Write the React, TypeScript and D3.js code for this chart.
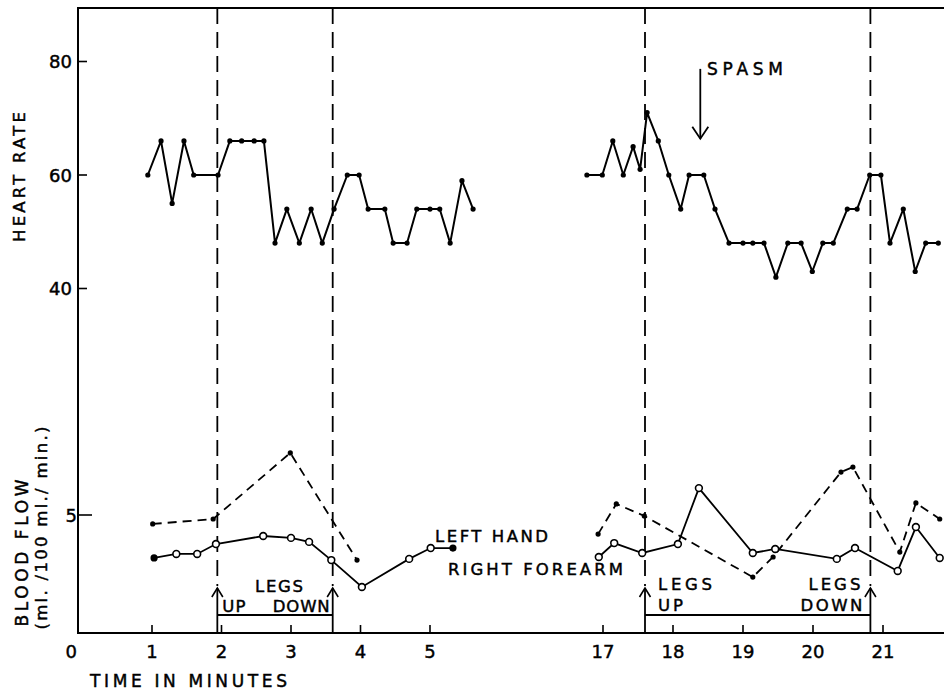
import React from 'react';
import * as d3 from 'd3';

// heart rate, first run (minutes, beats/min)
const hrTimesA = [0.94, 1.13, 1.29, 1.46, 1.6, 1.95, 2.12, 2.29, 2.47, 2.61, 2.77, 2.94, 3.12, 3.29, 3.45, 3.62, 3.81, 3.98, 4.11, 4.35, 4.47, 4.67, 4.81, 5.0, 5.14, 5.29, 5.46, 5.62];
const hrRateA = [60, 66, 55, 66, 60, 60, 66, 66, 66, 66, 48, 54, 48, 54, 48, 54, 60, 60, 54, 54, 48, 48, 54, 54, 54, 48, 59, 54];

// heart rate, second run
const hrTimesB = [16.77, 16.99, 17.14, 17.29, 17.43, 17.53, 17.63, 17.79, 17.94, 18.11, 18.23, 18.44, 18.6, 18.8, 19.0, 19.14, 19.3, 19.47, 19.64, 19.83, 19.99, 20.14, 20.29, 20.49, 20.63, 20.81, 20.97, 21.1, 21.29, 21.46, 21.61, 21.79];
const hrRateB = [60, 60, 66, 60, 65, 61, 71, 66, 60, 54, 60, 60, 54, 48, 48, 48, 48, 42, 48, 48, 43, 48, 48, 54, 54, 60, 60, 48, 54, 43, 48, 48];

// blood flow, left hand (dashed)
const handTimesA = [1.01, 1.88, 2.99, 3.95];
const handFlowA = [4.62, 4.83, 7.63, 3.09];
const handTimesB = [16.93, 17.19, 17.59, 19.14, 19.43, 20.4, 20.57, 21.24, 21.47, 21.81];
const handFlowB = [4.19, 5.47, 4.96, 2.37, 3.22, 6.82, 7.03, 3.43, 5.51, 4.83];

// blood flow, right forearm (solid)
const armTimesA = [1.03, 1.35, 1.65, 1.92, 2.6, 3.0, 3.26, 3.58, 4.02, 4.7, 5.01, 5.33];
const armFlowA = [3.18, 3.35, 3.35, 3.77, 4.11, 4.03, 3.86, 3.09, 1.95, 3.14, 3.6, 3.6];
const armTimesB = [16.94, 17.16, 17.56, 18.07, 18.37, 19.14, 19.46, 20.34, 20.6, 21.21, 21.47, 21.81];
const armFlowB = [3.22, 3.81, 3.39, 3.77, 6.14, 3.39, 3.56, 3.14, 3.6, 2.63, 4.49, 3.18];

// legs up / legs down events
const legsUp = [1.94, 17.6];
const legsDown = [3.6, 20.82];
const spasmTime = 18.39;

const xTicks = [1, 2, 3, 4, 5, 17, 18, 19, 20, 21];
const hrTicks = [80, 60, 40];
const flowTicks = [5];

const W = 944;
const H = 693;
const axisX = 78;
const topY = 8;
const baseY = 633;
const FONT = 'DejaVu Sans, sans-serif';

// broken time axis: 0-6 then 16-22, the gap squeezed out
const x = d3.scaleLinear().domain([1, 6, 16, 21]).range([152, 499.5, 533, 883]);
const yHR = d3.scaleLinear().domain([40, 80]).range([288.5, 61.5]);
const yBF = d3.scaleLinear().domain([0, 5]).range([baseY, 515]);

const zip = (t: number[], v: number[]) => t.map((d, i) => [d, v[i]] as [number, number]);

export default function App() {
  const hrLine = d3.line<[number, number]>().x(d => x(d[0])).y(d => yHR(d[1]));
  const bfLine = d3.line<[number, number]>().x(d => x(d[0])).y(d => yBF(d[1]));

  const hrRuns = [zip(hrTimesA, hrRateA), zip(hrTimesB, hrRateB)];
  const handRuns = [zip(handTimesA, handFlowA), zip(handTimesB, handFlowB)];
  const armRuns = [zip(armTimesA, armFlowA), zip(armTimesB, armFlowB)];

  // scanned lettering is a bit heavy, thicken with a thin stroke
  const txt = { fontFamily: FONT, fill: '#000', stroke: '#000', strokeWidth: 0.45 } as const;

  const arrowUp = (px: number) => (
    <g key={'a' + px}>
      <line x1={px} x2={px} y1={baseY} y2={588} stroke="#000" strokeWidth={1.8} />
      <path d={`M${px - 5.5},597 L${px},588 L${px + 5.5},597`} fill="none" stroke="#000" strokeWidth={1.6} />
    </g>
  );

  return (
    <svg width={W} height={H} style={{ position: 'absolute', left: 0, top: 0, background: '#fff' }}>
      <rect width={W} height={H} fill="#fff" />

      {/* frame */}
      <path d={`M${W},${topY} H${axisX} V${baseY} H${W}`} fill="none" stroke="#000" strokeWidth={2} />

      {/* y ticks */}
      {hrTicks.map(t => (
        <g key={'hr' + t}>
          <line x1={axisX} x2={axisX + 9} y1={yHR(t)} y2={yHR(t)} stroke="#000" strokeWidth={1.6} />
          <text x={axisX - 6} y={yHR(t) + 6.5} textAnchor="end" fontSize={18} {...txt}>{t}</text>
        </g>
      ))}
      {flowTicks.map(t => (
        <g key={'bf' + t}>
          <line x1={axisX} x2={axisX + 14} y1={yBF(t)} y2={yBF(t)} stroke="#000" strokeWidth={1.6} />
          <text x={axisX - 1} y={yBF(t) + 6.5} textAnchor="end" fontSize={18} {...txt}>{t}</text>
        </g>
      ))}

      {/* x ticks */}
      {xTicks.map(t => (
        <g key={'x' + t}>
          <line x1={x(t)} x2={x(t)} y1={baseY} y2={baseY - 8} stroke="#000" strokeWidth={1.6} />
          <text x={x(t)} y={658} textAnchor="middle" fontSize={18} {...txt}>{t}</text>
        </g>
      ))}
      <text x={axisX - 1} y={658} textAnchor="end" fontSize={18} {...txt}>0</text>

      {/* axis titles */}
      <text transform="translate(25,177) rotate(-90)" textAnchor="middle" fontSize={16.5} textLength={130} lengthAdjust="spacing" {...txt}>HEART RATE</text>
      <text transform="translate(28,553) rotate(-90)" textAnchor="middle" fontSize={17} textLength={147} lengthAdjust="spacing" {...txt}>BLOOD FLOW</text>
      <text transform="translate(47,528) rotate(-90)" textAnchor="middle" fontSize={16.5} textLength={203} lengthAdjust="spacing" {...txt}>(ml. /100 ml./ min.)</text>
      <text x={90} y={687} fontSize={17} textLength={197} lengthAdjust="spacing" {...txt}>TIME IN MINUTES</text>

      {/* legs up / down markers */}
      {[...legsUp, ...legsDown].map(t => (
        <line key={'v' + t} x1={x(t)} x2={x(t)} y1={topY} y2={586} stroke="#000" strokeWidth={1.8} strokeDasharray="16,8" />
      ))}
      {[...legsUp, ...legsDown].map(t => arrowUp(x(t)))}
      {legsUp.map((t, i) => (
        <line key={'bar' + t} x1={x(t)} x2={x(legsDown[i])} y1={615} y2={615} stroke="#000" strokeWidth={1.8} />
      ))}

      <text x={255} y={592} fontSize={16.5} textLength={48} lengthAdjust="spacing" {...txt}>LEGS</text>
      <text x={x(legsUp[0]) + 5} y={612} fontSize={16.5} textLength={23} lengthAdjust="spacing" {...txt}>UP</text>
      <text x={x(legsDown[0]) - 3} y={612} textAnchor="end" fontSize={16.5} textLength={57} lengthAdjust="spacing" {...txt}>DOWN</text>

      <text x={x(legsUp[1]) + 13} y={590} fontSize={16.5} textLength={54} lengthAdjust="spacing" {...txt}>LEGS</text>
      <text x={x(legsUp[1]) + 13} y={611} fontSize={16.5} textLength={25} lengthAdjust="spacing" {...txt}>UP</text>
      <text x={x(legsDown[1]) - 62} y={590} fontSize={16.5} textLength={52} lengthAdjust="spacing" {...txt}>LEGS</text>
      <text x={x(legsDown[1]) - 70} y={611} fontSize={16.5} textLength={62} lengthAdjust="spacing" {...txt}>DOWN</text>

      {/* spasm */}
      <line x1={x(spasmTime)} x2={x(spasmTime)} y1={yHR(78.7)} y2={yHR(66.4)} stroke="#000" strokeWidth={1.8} />
      <path
        d={`M${x(spasmTime) - 8},${yHR(66.4) - 12} L${x(spasmTime)},${yHR(66.4)} L${x(spasmTime) + 8},${yHR(66.4) - 12}`}
        fill="none"
        stroke="#000"
        strokeWidth={1.8}
      />
      <text x={707} y={75} fontSize={17} textLength={76} lengthAdjust="spacing" {...txt}>SPASM</text>

      {/* heart rate */}
      {hrRuns.map((run, k) => (
        <g key={'hrRun' + k}>
          <path d={hrLine(run) || ''} fill="none" stroke="#000" strokeWidth={2} strokeLinejoin="round" />
          {run.map((d, i) => (
            <circle key={i} cx={x(d[0])} cy={yHR(d[1])} r={2.6} fill="#000" />
          ))}
        </g>
      ))}

      {/* left hand, dashed */}
      {handRuns.map((run, k) => (
        <g key={'hand' + k}>
          <path d={bfLine(run) || ''} fill="none" stroke="#000" strokeWidth={1.8} strokeDasharray="9,6" />
          {run.map((d, i) => (
            <circle key={i} cx={x(d[0])} cy={yBF(d[1])} r={2.6} fill="#000" />
          ))}
        </g>
      ))}

      {/* right forearm, solid with open circles */}
      {armRuns.map((run, k) => (
        <g key={'arm' + k}>
          <path d={bfLine(run) || ''} fill="none" stroke="#000" strokeWidth={1.8} />
          {run.map((d, i) => {
            const filled = k === 0 && (i === 0 || i === run.length - 1);
            return (
              <circle
                key={i}
                cx={x(d[0])}
                cy={yBF(d[1])}
                r={filled ? 2.8 : 3.4}
                fill={filled ? '#000' : '#fff'}
                stroke="#000"
                strokeWidth={1.6}
              />
            );
          })}
        </g>
      ))}

      <text x={435} y={542} fontSize={16.5} textLength={113} lengthAdjust="spacing" {...txt}>LEFT HAND</text>
      <text x={448} y={575} fontSize={16.5} textLength={175} lengthAdjust="spacing" {...txt}>RIGHT FOREARM</text>
    </svg>
  );
}
